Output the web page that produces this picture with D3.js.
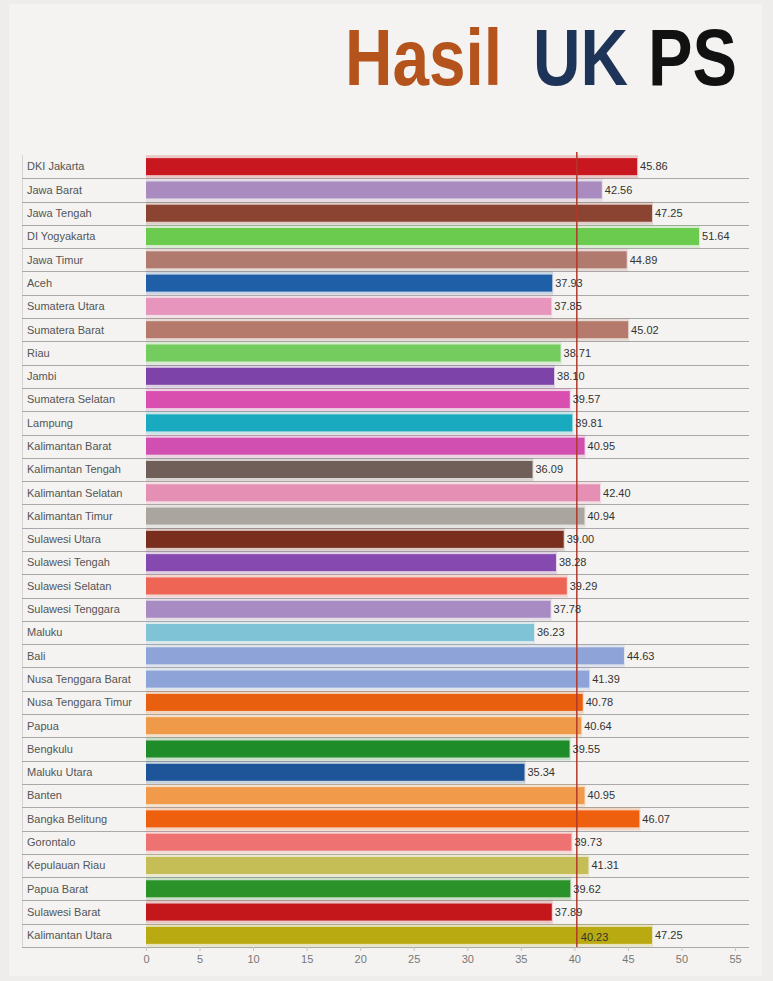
<!DOCTYPE html>
<html>
<head>
<meta http-equiv="Content-Type" content="text/html; charset=UTF-8">
<style>
body { margin: 0; background: #efedeb; }
svg { display: block; font-family: "Liberation Sans", Arial, sans-serif; }
</style>
</head>
<body>

<div class="container"></div>

<script src="https://cdn.jsdelivr.net/npm/d3@7"></script>
<script>

// provinces, top to bottom
var provinces = [
    "DKI Jakarta", "Jawa Barat", "Jawa Tengah", "DI Yogyakarta", "Jawa Timur",
    "Aceh", "Sumatera Utara", "Sumatera Barat", "Riau", "Jambi",
    "Sumatera Selatan", "Lampung", "Kalimantan Barat", "Kalimantan Tengah",
    "Kalimantan Selatan", "Kalimantan Timur", "Sulawesi Utara", "Sulawesi Tengah",
    "Sulawesi Selatan", "Sulawesi Tenggara", "Maluku", "Bali",
    "Nusa Tenggara Barat", "Nusa Tenggara Timur", "Papua", "Bengkulu",
    "Maluku Utara", "Banten", "Bangka Belitung", "Gorontalo", "Kepulauan Riau",
    "Papua Barat", "Sulawesi Barat", "Kalimantan Utara"
];

var scores = [
    45.86, 42.56, 47.25, 51.64, 44.89,
    37.93, 37.85, 45.02, 38.71, 38.10,
    39.57, 39.81, 40.95, 36.09,
    42.40, 40.94, 39.00, 38.28,
    39.29, 37.78, 36.23, 44.63,
    41.39, 40.78, 40.64, 39.55,
    35.34, 40.95, 46.07, 39.73, 41.31,
    39.62, 37.89, 47.25
];

var barColors = [
    "#c8171e", "#a98bbf", "#8b4332", "#6acb4f", "#b07a6e",
    "#1f5fa8", "#e895be", "#b57a6c", "#74cc5e", "#7e43a8",
    "#d84fb0", "#1aaabf", "#d04fb0", "#6f5f58",
    "#e58fb5", "#aaa59f", "#7a2e1e", "#8649b0",
    "#ee6455", "#a88bc2", "#7ec4d6", "#8ea3d8",
    "#8ea3d8", "#e8600f", "#ee9a48", "#1f8c2a",
    "#1d5598", "#f09a4a", "#ee600e", "#ee7272", "#c5bd55",
    "#2a9228", "#c4171c", "#b8aa10"
];

var xTicks = [0, 5, 10, 15, 20, 25, 30, 35, 40, 45, 50, 55];
var average = 40.23;

var titleWords = ["Hasil", "UK", "PS"];
var titleColors = ["#b4541c", "#1e3358", "#111111"];

var width = 773;
var height = 981;

var svg = d3.select(".container")
            .append("svg")
                .attr("width", width)
                .attr("height", height);

// slightly lighter panel behind everything
svg.append("rect")
    .attr("x", 9).attr("y", 4)
    .attr("width", 753).attr("height", 972)
    .attr("fill", "#f4f3f1");

// title, each word stretched into the box it fills in the picture
var titleBox = [ { x: 345, w: 157 }, { x: 533, w: 95 }, { x: 648, w: 89 } ];
svg.selectAll("text.title")
    .data(titleWords)
    .enter().append("text")
        .attr("class", "title")
        .attr("x", function(d, i) { return titleBox[i].x; })
        .attr("y", 85)
        .attr("textLength", function(d, i) { return titleBox[i].w; })
        .attr("lengthAdjust", "spacingAndGlyphs")
        .style("font-size", "80px")
        .style("font-weight", "bold")
        .style("fill", function(d, i) { return titleColors[i]; })
        .text(function(d) { return d; });

var x = d3.scaleLinear()
          .domain([0, 55])
          .range([146, 735]);

var y = d3.scaleBand()
          .domain(provinces)
          .range([155, 947])
          .paddingInner(0.27)
          .paddingOuter(0.135);

var step = y.step();

// faint left edge of the label column
svg.append("line")
    .attr("x1", 22.5).attr("x2", 22.5)
    .attr("y1", 155).attr("y2", 947)
    .attr("stroke", "#d6d4d2");

// row separators (under every row)
svg.selectAll("line.sep")
    .data(provinces)
    .enter().append("line")
        .attr("class", "sep")
        .attr("x1", 22).attr("x2", 749)
        .attr("y1", function(d) { return Math.round(y(d) - step * 0.135 + step) + 0.5; })
        .attr("y2", function(d) { return Math.round(y(d) - step * 0.135 + step) + 0.5; })
        .attr("stroke", "#a9a9a9")
        .attr("stroke-width", 1);

// province names
svg.selectAll("text.name")
    .data(provinces)
    .enter().append("text")
        .attr("class", "name")
        .attr("x", 27)
        .attr("y", function(d) { return y(d) + y.bandwidth() / 2; })
        .attr("dy", "0.35em")
        .style("font-size", "11px")
        .style("fill", "#555")
        .text(function(d) { return d; });

var rows = provinces.map(function(p, i) {
    return { name: p, value: scores[i], color: barColors[i] };
});

// pale glow around each bar
svg.selectAll("rect.glow")
    .data(rows)
    .enter().append("rect")
        .attr("class", "glow")
        .attr("x", x(0))
        .attr("y", function(d) { return y(d.name) - 3; })
        .attr("width", function(d) { return x(d.value) - x(0) + 1; })
        .attr("height", y.bandwidth() + 6)
        .style("fill", function(d) { return d.color; })
        .style("opacity", 0.2);

svg.selectAll("rect.bar")
    .data(rows)
    .enter().append("rect")
        .attr("class", "bar")
        .attr("x", x(0))
        .attr("y", function(d) { return y(d.name); })
        .attr("width", function(d) { return x(d.value) - x(0); })
        .attr("height", y.bandwidth())
        .style("fill", function(d) { return d.color; });

// average line
svg.append("line")
    .attr("x1", x(average)).attr("x2", x(average))
    .attr("y1", 152).attr("y2", 947)
    .attr("stroke", "#b3392a")
    .attr("stroke-width", 1.5);

// value labels
svg.selectAll("text.value")
    .data(rows)
    .enter().append("text")
        .attr("class", "value")
        .attr("x", function(d) { return x(d.value) + 3; })
        .attr("y", function(d) { return y(d.name) + y.bandwidth() / 2; })
        .attr("dy", "0.35em")
        .style("font-size", "11px")
        .style("fill", "#333")
        .text(function(d) { return d.value.toFixed(2); });

// average label sits in the last row
var lastRow = provinces[provinces.length - 1];
svg.append("text")
    .attr("x", x(average) + 4)
    .attr("y", y(lastRow) + y.bandwidth() / 2 + 2)
    .attr("dy", "0.35em")
    .style("font-size", "11px")
    .style("fill", "#333")
    .text(average.toFixed(2));

// x axis
var axis = svg.append("g")
    .attr("transform", "translate(0,947)")
    .call(d3.axisBottom(x).tickValues(xTicks).tickSize(4).tickPadding(4));

axis.select(".domain").remove();
axis.selectAll(".tick line").attr("stroke", "#c4c4c4");
axis.selectAll(".tick text")
    .style("font-size", "11px")
    .style("font-family", "\"Liberation Sans\", Arial, sans-serif")
    .style("fill", "#777");

</script>
</body>
</html>
